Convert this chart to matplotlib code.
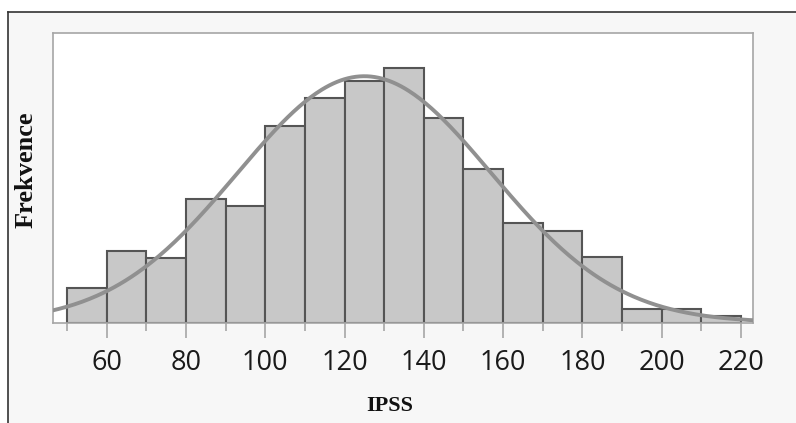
import numpy as np
import matplotlib
matplotlib.use("Agg")
import matplotlib.pyplot as plt
from matplotlib.patches import Rectangle
from matplotlib.lines import Line2D

# Histogram bins (IPSS) and frequencies
bin_edges = [50, 60, 70, 80, 90, 100, 110, 120, 130, 140, 150, 160, 170, 180, 190, 200, 210, 220]
counts = [5.0, 10.5, 9.4, 18.2, 17.1, 28.9, 32.9, 35.4, 37.4, 30.0, 22.6, 14.6, 13.4, 9.6, 2.0, 2.0, 1.0]

# Fitted normal curve parameters
fit_mean = 125
fit_sd = 32

major_ticks = [60, 80, 100, 120, 140, 160, 180, 200, 220]
minor_ticks = [50, 70, 90, 110, 130, 150, 170, 190, 210]

fig = plt.figure(figsize=(7.96, 4.23), dpi=100, facecolor="white")

# light panel with black top/left frame
fig.patches.append(Rectangle((8 / 796, 0), 1, 1 - 12 / 423, transform=fig.transFigure,
                             facecolor="#f7f7f7", edgecolor="none", zorder=-5))
fig.lines.append(Line2D([8 / 796, 1], [1 - 12 / 423, 1 - 12 / 423], transform=fig.transFigure,
                        color="#333333", lw=1.2, zorder=-4))
fig.lines.append(Line2D([8 / 796, 8 / 796], [0, 1 - 12 / 423], transform=fig.transFigure,
                        color="#333333", lw=1.2, zorder=-4))

ax = fig.add_axes([53 / 796, 1 - 322.5 / 423, 700 / 796, 289.5 / 423])
ax.set_facecolor("white")

widths = np.diff(bin_edges)
ax.bar(bin_edges[:-1], counts, width=widths, align="edge",
       color="#c8c8c8", edgecolor="#555555", linewidth=1.5, zorder=2)

binw = widths[0]
n_total = sum(counts)
xs = np.linspace(40, 230, 400)
ys = n_total * binw / (fit_sd * np.sqrt(2 * np.pi)) * np.exp(-0.5 * ((xs - fit_mean) / fit_sd) ** 2)
ax.plot(xs, ys, color="#909090", lw=2.8, zorder=3, solid_capstyle="round")

ax.set_xlim(46.5, 223)
ax.set_ylim(0, 42.5)

for s in ax.spines.values():
    s.set_color("#a6a6a6")
    s.set_linewidth(1.2)

ax.set_yticks([])
ax.set_xticks(major_ticks)
ax.set_xticks(minor_ticks, minor=True)
ax.tick_params(axis="x", which="major", length=11, width=1.2, color="#a6a6a6",
               labelsize=19.5, labelcolor="#1a1a1a", pad=8)
ax.tick_params(axis="x", which="minor", length=6, width=1.2, color="#a6a6a6")
for lbl in ax.get_xticklabels():
    lbl.set_family(["Open Sans", "DejaVu Sans"])

fig.text(26 / 796, 1 - 170 / 423, "Frekvence", rotation=90, ha="center", va="center",
         family="Liberation Serif", fontweight="bold", fontsize=19, color="#111111")
fig.text(389.5 / 796, 1 - 405.5 / 423, "IPSS", ha="center", va="center",
         family="Liberation Serif", fontweight="bold", fontsize=16, color="#111111")

fig.savefig("out.png", dpi=100, facecolor=fig.get_facecolor())
